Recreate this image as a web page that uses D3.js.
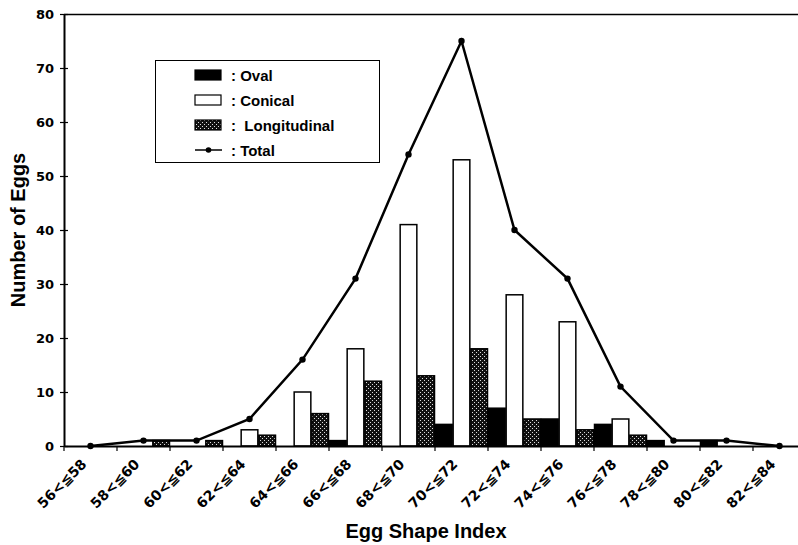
<!DOCTYPE html>
<html><head><meta charset="utf-8">
<script src="https://cdn.jsdelivr.net/npm/d3@7"></script>
<style>
html,body{margin:0;padding:0;background:#fff;overflow:hidden}
svg{display:block}
</style></head>
<body>
<svg id="chart" width="798" height="545"></svg>
<script>
const categories = ["56<≦58","58<≦60","60<≦62","62<≦64","64<≦66","66<≦68","68<≦70","70<≦72","72<≦74","74<≦76","76<≦78","78<≦80","80<≦82","82<≦84"];
const oval         = [0,0,0,0,0,1,0,4,7,5,4,1,1,0];
const conical      = [0,0,0,3,10,18,41,53,28,23,5,0,0,0];
const longitudinal = [0,1,1,2,6,12,13,18,5,3,2,0,0,0];
const total        = [0,1,1,5,16,31,54,75,40,31,11,1,1,0];
const yTicks = [0,10,20,30,40,50,60,70,80];
const seriesNames = ["Oval","Conical","Longitudinal"];
const legendLabels = [": Oval", ": Conical", ":  Longitudinal", ": Total"];

const svg = d3.select("#chart");
const L = 64, R = 806, T = 14, B = 446;

const defs = svg.append("defs");
const pat = defs.append("pattern").attr("id","dots").attr("patternUnits","userSpaceOnUse")
  .attr("width",4).attr("height",4);
pat.append("rect").attr("width",4).attr("height",4).attr("fill","#111");
pat.append("rect").attr("x",0).attr("y",0).attr("width",1).attr("height",1).attr("fill","#ddd");
pat.append("rect").attr("x",2).attr("y",2).attr("width",1).attr("height",1).attr("fill","#ddd");

const fills = {Oval:"#000", Conical:"#fff", Longitudinal:"url(#dots)"};

const x = d3.scaleBand().domain(categories).range([L,R]).padding(0);
const xs = d3.scaleBand().domain(seriesNames).range([0,x.bandwidth()]).padding(0);
const y = d3.scaleLinear().domain([0,80]).range([B,T]);

const data = categories.map((c,i)=>({cat:c, Oval:oval[i], Conical:conical[i], Longitudinal:longitudinal[i], Total:total[i]}));

// frame
svg.append("line").attr("x1",L).attr("x2",R).attr("y1",T+0.5).attr("y2",T+0.5).attr("stroke","#000").attr("stroke-width",1.5);

// bars
const g = svg.append("g");
data.forEach(d=>{
  seriesNames.forEach(s=>{
    if(d[s] > 0){
      g.append("rect")
        .attr("x", x(d.cat)+xs(s)+0.5)
        .attr("y", y(d[s]))
        .attr("width", xs.bandwidth()-1)
        .attr("height", y(0)-y(d[s]))
        .attr("fill", fills[s])
        .attr("stroke","#000").attr("stroke-width",1.5);
    }
  });
});

// y axis
const yAxis = d3.axisLeft(y).tickValues(yTicks).tickSize(0).tickPadding(10);
const ya = svg.append("g").attr("transform",`translate(${L},0)`).call(yAxis);
ya.select(".domain").attr("stroke","#000").attr("stroke-width",2);
ya.selectAll("text").attr("font-family","DejaVu Sans").attr("font-weight","bold").attr("font-size",13).attr("fill","#000");
ya.selectAll(".tick").append("line").attr("x1",-4).attr("x2",4).attr("stroke","#000").attr("stroke-width",1.2);

// x axis
const xAxis = d3.axisBottom(x).tickSize(0).tickFormat("");
const xa = svg.append("g").attr("transform",`translate(0,${B})`).call(xAxis);
xa.select(".domain").attr("stroke","#000").attr("stroke-width",2);
const bounds = d3.range(categories.length+1).map(i=>L + i*x.step());
xa.selectAll(".bt").data(bounds).enter().append("line")
  .attr("x1",d=>d).attr("x2",d=>d).attr("y1",0).attr("y2",5).attr("stroke","#000").attr("stroke-width",1.2);
svg.append("g").selectAll("text").data(categories).enter().append("text")
  .attr("transform",d=>`translate(${x(d)+x.bandwidth()/2-3},${B+19}) rotate(-45)`)
  .attr("text-anchor","end")
  .attr("font-family","DejaVu Sans").attr("font-weight","bold").attr("font-size",14)
  .text(d=>d);

// total line
const line = d3.line().x(d=>x(d.cat)+x.bandwidth()/2).y(d=>y(d.Total));
svg.append("path").datum(data).attr("d",line).attr("fill","none").attr("stroke","#000").attr("stroke-width",2.5);
svg.append("g").selectAll("circle").data(data).enter().append("circle")
  .attr("cx",d=>x(d.cat)+x.bandwidth()/2).attr("cy",d=>y(d.Total)).attr("r",3.2).attr("fill","#000");

// axis titles
svg.append("text").attr("x",426).attr("y",538).attr("text-anchor","middle")
  .attr("font-family","Liberation Sans").attr("font-weight","bold").attr("font-size",20).text("Egg Shape Index");
svg.append("text").attr("transform","translate(25,230) rotate(-90)").attr("text-anchor","middle")
  .attr("font-family","Liberation Sans").attr("font-weight","bold").attr("font-size",20).text("Number of Eggs");

// legend
const lg = svg.append("g");
lg.append("rect").attr("x",155.5).attr("y",60.5).attr("width",224).attr("height",102)
  .attr("fill","#fff").attr("stroke","#000").attr("stroke-width",1);
const rowsY = [75,100,125,150];
seriesNames.forEach((s,i)=>{
  lg.append("rect").attr("x",195).attr("y",rowsY[i]-5).attr("width",26).attr("height",10)
    .attr("fill",fills[s]).attr("stroke","#000").attr("stroke-width",1.2);
});
lg.append("line").attr("x1",195).attr("x2",222).attr("y1",rowsY[3]).attr("y2",rowsY[3]).attr("stroke","#000").attr("stroke-width",1.5);
lg.append("circle").attr("cx",208.5).attr("cy",rowsY[3]).attr("r",2.8).attr("fill","#000");
legendLabels.forEach((t,i)=>{
  lg.append("text").attr("x",231).attr("y",rowsY[i]+5.5).attr("xml:space","preserve").style("white-space","pre")
    .attr("font-family","Liberation Sans").attr("font-weight","bold").attr("font-size",15).text(t);
});
</script>
</body></html>
